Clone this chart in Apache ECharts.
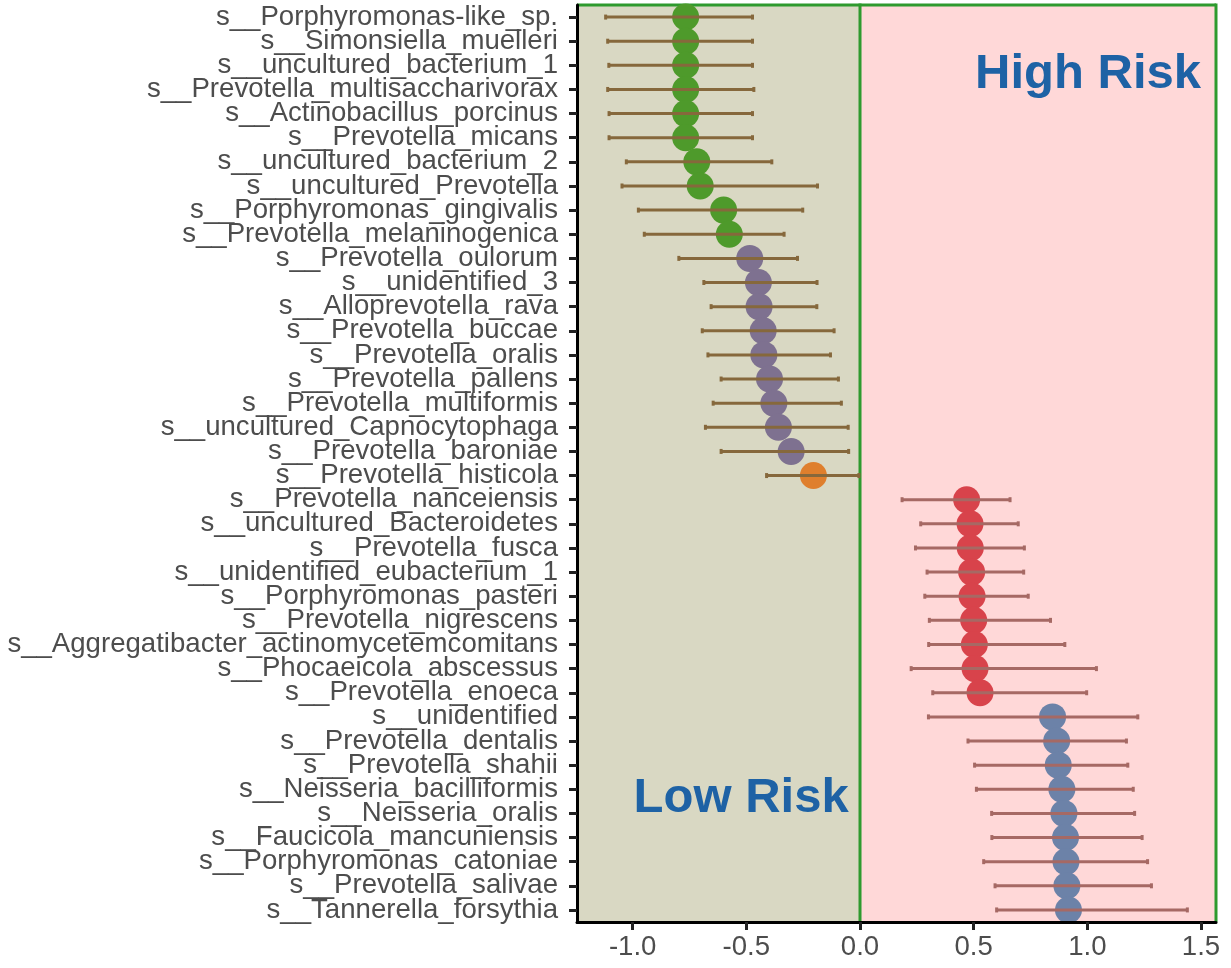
<!DOCTYPE html>
<html><head><meta charset="utf-8">
<script src="https://cdn.jsdelivr.net/npm/echarts@6/dist/echarts.min.js"></script>
<style>html,body{margin:0;padding:0;background:#fff;}#c{width:1231px;height:968px;}</style>
</head><body><div id="c"></div>
<script>
const categories = [
  's__Porphyromonas-like_sp.','s__Simonsiella_muelleri','s__uncultured_bacterium_1','s__Prevotella_multisaccharivorax',
  's__Actinobacillus_porcinus','s__Prevotella_micans','s__uncultured_bacterium_2','s__uncultured_Prevotella',
  's__Porphyromonas_gingivalis','s__Prevotella_melaninogenica','s__Prevotella_oulorum','s__unidentified_3',
  's__Alloprevotella_rava','s__Prevotella_buccae','s__Prevotella_oralis','s__Prevotella_pallens',
  's__Prevotella_multiformis','s__uncultured_Capnocytophaga','s__Prevotella_baroniae','s__Prevotella_histicola',
  's__Prevotella_nanceiensis','s__uncultured_Bacteroidetes','s__Prevotella_fusca','s__unidentified_eubacterium_1',
  's__Porphyromonas_pasteri','s__Prevotella_nigrescens','s__Aggregatibacter_actinomycetemcomitans','s__Phocaeicola_abscessus',
  's__Prevotella_enoeca','s__unidentified','s__Prevotella_dentalis','s__Prevotella_shahii',
  's__Neisseria_bacilliformis','s__Neisseria_oralis','s__Faucicola_mancuniensis','s__Porphyromonas_catoniae',
  's__Prevotella_salivae','s__Tannerella_forsythia'
];
const estimates = [
  -0.767,-0.767,-0.767,-0.767,-0.767,-0.767,-0.718,-0.703,-0.600,-0.575,
  -0.485,-0.447,-0.444,-0.426,-0.423,-0.398,-0.379,-0.359,-0.303,-0.205,
  0.469,0.484,0.485,0.491,0.493,0.500,0.503,0.506,0.528,
  0.847,0.865,0.872,0.888,0.897,0.904,0.906,0.910,0.917
];
const lowerCI = [
  -1.119,-1.110,-1.105,-1.110,-1.104,-1.104,-1.028,-1.047,-0.975,-0.949,
  -0.797,-0.687,-0.655,-0.694,-0.669,-0.611,-0.646,-0.680,-0.611,-0.411,
  0.185,0.267,0.244,0.295,0.285,0.305,0.302,0.225,0.320,
  0.301,0.475,0.504,0.512,0.579,0.580,0.544,0.594,0.601
];
const upperCI = [
  -0.473,-0.473,-0.473,-0.467,-0.473,-0.473,-0.388,-0.187,-0.252,-0.334,
  -0.275,-0.189,-0.190,-0.114,-0.130,-0.095,-0.082,-0.052,-0.050,-0.005,
  0.660,0.696,0.723,0.720,0.740,0.838,0.901,1.040,0.997,
  1.222,1.172,1.178,1.202,1.208,1.241,1.265,1.282,1.440
];
const groups = [
  'green','green','green','green','green','green','green','green','green','green',
  'purple','purple','purple','purple','purple','purple','purple','purple','purple','orange',
  'red','red','red','red','red','red','red','red','red',
  'blue','blue','blue','blue','blue','blue','blue','blue','blue'
];
const xTicks = [-1.0, -0.5, 0.0, 0.5, 1.0, 1.5];
const xTickLabels = ['-1.0','-0.5','0.0','0.5','1.0','1.5'];
const xMin = -1.245, xMax = 1.566;
const regions = [
  {name:'Low Risk', from: xMin, to: 0, fill:'#D9D8C3'},
  {name:'High Risk', from: 0, to: xMax, fill:'#FFD8D8'}
];
const groupColors = {green:'#4E9A2B', purple:'#7E7190', orange:'#DF7F2D', red:'#D8434B', blue:'#6C82A8'};
const FONT = '"Liberation Sans", Arial, Helvetica, sans-serif';
const BORDER = '#2E9A2E';

const chart = echarts.init(document.getElementById('c'), null, {renderer:'canvas'});
const option = {
  backgroundColor:'#ffffff',
  animation:false,
  grid:{left:577, right:15, top:5, bottom:46, containLabel:false},
  xAxis:{
    type:'value', min:xMin, max:xMax, z:5,
    splitLine:{show:false},
    axisLine:{show:true, onZero:false, lineStyle:{color:'#000', width:3}},
    axisTick:{show:true, customValues:xTicks, length:8, lineStyle:{color:'#222', width:3}},
    axisLabel:{show:true, customValues:xTicks, margin:11, fontSize:27.6, color:'#4D4D4D', fontFamily:FONT,
      formatter:(v)=>{const i = xTicks.findIndex(t=>Math.abs(t-v)<1e-9); return i>=0?xTickLabels[i]:'';}}
  },
  yAxis:{
    type:'category', data:categories, inverse:true, z:5,
    axisLine:{show:true, onZero:false, lineStyle:{color:'#000', width:3}},
    axisTick:{show:true, alignWithLabel:true, length:8, lineStyle:{color:'#222', width:3}},
    axisLabel:{margin:19, fontSize:27.6, color:'#4D4D4D', fontFamily:FONT, interval:0},
    splitLine:{show:false}
  },
  series:[
    {
      type:'custom', silent:true, z:1,
      data: regions.map(r=>[r.from, r.to]),
      encode:{x:[0,1]},
      renderItem:(params, api)=>{
        const cs = params.coordSys;
        const x1 = api.coord([api.value(0), 0])[0];
        const x2 = api.coord([api.value(1), 0])[0];
        const yb = cs.y + cs.height;
        return {type:'group', children:[
          {type:'rect', shape:{x:x1, y:cs.y, width:x2-x1, height:cs.height}, style:{fill:regions[params.dataIndex].fill}},
          {type:'line', z2:2, shape:{x1:x1, y1:cs.y, x2:x2, y2:cs.y}, style:{stroke:BORDER, lineWidth:3}},
          {type:'line', z2:2, shape:{x1:x2, y1:cs.y-1.5, x2:x2, y2:yb}, style:{stroke:BORDER, lineWidth:3}}
        ]};
      }
    },
    {
      type:'scatter', z:3, symbol:'circle', symbolSize:27,
      data: estimates.map((v,i)=>({value:[v,i], itemStyle:{color:groupColors[groups[i]], opacity:1}})),
      emphasis:{disabled:true}
    },
    {
      type:'custom', z:4, silent:true,
      data: lowerCI.map((lo,i)=>[lo, upperCI[i], i, estimates[i]]),
      encode:{x:[0,1], y:2},
      renderItem:(params, api)=>{
        const idx = api.value(2);
        const p1 = api.coord([api.value(0), idx]);
        const p2 = api.coord([api.value(1), idx]);
        const col = api.value(3) < 0 ? '#86683C' : '#A66964';
        const capH = 5;
        return {type:'group', children:[
          {type:'line', shape:{x1:p1[0], y1:p1[1], x2:p2[0], y2:p2[1]}, style:{stroke:col, lineWidth:3}},
          {type:'line', shape:{x1:p1[0], y1:p1[1]-capH/2, x2:p1[0], y2:p1[1]+capH/2}, style:{stroke:col, lineWidth:3}},
          {type:'line', shape:{x1:p2[0], y1:p2[1]-capH/2, x2:p2[0], y2:p2[1]+capH/2}, style:{stroke:col, lineWidth:3}}
        ]};
      }
    }
  ]
};
chart.setOption(option);

// annotation labels placed in data space
const annotations = [
  {text:'High Risk', x:1.5, row:2.38},
  {text:'Low Risk', x:-0.05, row:32.4}
];
const a0 = chart.convertToPixel({gridIndex:0}, [0, 0]);
const a1 = chart.convertToPixel({gridIndex:0}, [0, 1]);
const band = a1[1]-a0[1];
chart.setOption({graphic: annotations.map(a=>({
  type:'text', z:10, silent:true,
  x: chart.convertToPixel({gridIndex:0}, [a.x, 0])[0],
  y: a0[1] + a.row*band,
  style:{text:a.text, fill:'#1E62A5', font:'bold 49px '+FONT, textAlign:'right', textVerticalAlign:'middle'}
}))});
</script></body></html>
